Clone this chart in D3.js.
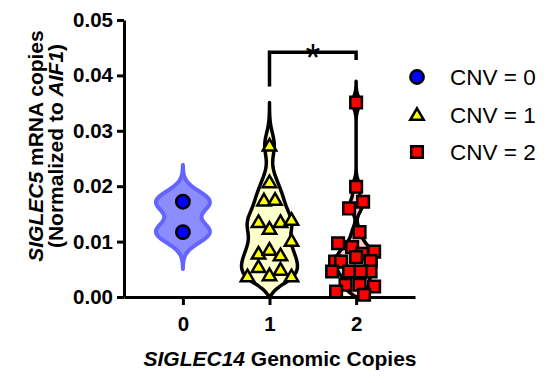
<!DOCTYPE html>
<html>
<head>
<meta charset="utf-8">
<script src="https://cdn.jsdelivr.net/npm/d3@7"></script>
<style>
  body { margin: 0; background: #fff; }
  text { font-family: "Liberation Sans", Arial, sans-serif; }
</style>
</head>
<body>
<div class="container"></div>
<script>
////////////////////////////////////////////////////////////////
// DATA
////////////////////////////////////////////////////////////////
var groups = ["0", "1", "2"];
var legendLabels = ["CNV = 0", "CNV = 1", "CNV = 2"];
var yTicks = [0, 0.01, 0.02, 0.03, 0.04, 0.05];

// values, jitter is in category units
var cnv0 = [0.0172, 0.0117];
var cnv0Jit = [0, 0];

var cnv1 = [0.0274, 0.0208, 0.0175, 0.0176, 0.0136, 0.0124, 0.0136, 0.0140,
            0.0102, 0.0079, 0.0086, 0.0076, 0.0055, 0.0050, 0.0038, 0.0040, 0.0038];
var cnv1Jit = [0, 0, -0.064, 0.064, -0.127, 0, 0.127, 0.254,
               0.254, -0.127, 0, 0.127, -0.127, 0.127, -0.254, 0, 0.254];

var cnv2 = [0.0351, 0.0199, 0.0172, 0.0160, 0.0117, 0.0097, 0.0090, 0.0082,
            0.0078, 0.0072, 0.0065, 0.0064, 0.0064, 0.0046, 0.0046, 0.0046,
            0.0046, 0.0022, 0.0022, 0.0019, 0.0010, 0.0004];
var cnv2Jit = [0, 0, 0.081, -0.081, 0.040, -0.208, -0.046, 0.208,
               0.070, 0, 0.167, -0.243, -0.173, -0.081, 0.167, 0.052,
               -0.277, -0.122, 0.040, 0.208, -0.231, 0.092];

var bandwidths = [0.0019, 0.0022, 0.0011]; // kde bandwidth per group
var sigStar = ["1", "2", "*"];

////////////////////////////////////////////////////////////////
// STAGE
////////////////////////////////////////////////////////////////
var W = 550, H = 383;
var svg = d3.select(".container").append("svg")
    .attr("width", W).attr("height", H);

var y = d3.scaleLinear().domain([0, 0.05]).range([297, 20]);
var x = d3.scalePoint().domain(groups).range([124, 415]).padding(0.68);
var unit = x.step(); // px per category

var fills = ["#8c8cff", "#ffffcc", "#ffcccc"];
var strokes = ["#6464ff", "#000", "#000"];
var ptFill = ["#0000ff", "#ffff00", "#ff0000"];
var shapes = [d3.symbolCircle, d3.symbolTriangle, d3.symbolSquare];
var shapeSize = [140, 78, 135];
var maxHalf = [27, 28, 20];

var series = [cnv0, cnv1, cnv2];
var jitter = [cnv0Jit, cnv1Jit, cnv2Jit];

////////////////////////////////////////////////////////////////
// AXES
////////////////////////////////////////////////////////////////
var yAxis = svg.append("g")
    .attr("transform", "translate(124,0)")
    .call(d3.axisLeft(y).tickValues(yTicks).tickFormat(d3.format(".2f"))
          .tickSize(7).tickSizeOuter(0).tickPadding(4));

var xAxis = svg.append("g")
    .attr("transform", "translate(0,297)")
    .call(d3.axisBottom(x).tickSize(8).tickSizeOuter(0).tickPadding(11));

[yAxis, xAxis].forEach(function(a) {
  a.selectAll("path, line").attr("stroke", "#000").attr("stroke-width", 3);
  a.selectAll("text").attr("font-size", 20.5).attr("font-weight", "bold")
    .attr("fill", "#000").attr("font-family", "Liberation Sans, Arial, sans-serif");
});

////////////////////////////////////////////////////////////////
// VIOLINS
////////////////////////////////////////////////////////////////
function kde(vals, bw, v) {
  var s = 0;
  vals.forEach(function(d) { s += Math.exp(-0.5 * Math.pow((v - d) / bw, 2)); });
  return s;
}

series.forEach(function(vals, i) {
  var bw = bandwidths[i];
  var lo = Math.max(0, d3.min(vals) - 3.5 * bw);
  var hi = d3.max(vals) + 3.5 * bw;
  var pts = d3.range(0, 121).map(function(k) {
    var v = lo + (hi - lo) * k / 120;
    return { v: v, d: kde(vals, bw, v) };
  });
  var dmax = d3.max(pts, function(p) { return p.d; });
  // taper when the curve is cut at zero
  pts.forEach(function(p) {
    var w = p.d / dmax;
    if (lo === 0) {
      var t = Math.min(1, p.v / 0.003);
      w *= Math.sqrt(t);
    }
    p.w = w * maxHalf[i];
  });
  pts[0].w = 0;
  pts[pts.length - 1].w = 0;

  var cx = x(groups[i]);
  var area = d3.area()
      .y(function(p) { return y(p.v); })
      .x0(function(p) { return cx - p.w; })
      .x1(function(p) { return cx + p.w; })
      .curve(d3.curveBasis);
  svg.append("path")
     .attr("d", area(pts))
     .attr("fill", fills[i])
     .attr("stroke", strokes[i])
     .attr("stroke-width", i == 0 ? 4 : 3.5)
     .attr("stroke-linejoin", "round");
});

////////////////////////////////////////////////////////////////
// POINTS
////////////////////////////////////////////////////////////////
series.forEach(function(vals, i) {
  var sym = d3.symbol().type(shapes[i]).size(shapeSize[i]);
  svg.append("g").selectAll("path")
     .data(vals)
     .enter().append("path")
     .attr("d", sym)
     .attr("transform", function(d, k) {
        var dy = i == 1 ? 1.5 : 0;
        return "translate(" + (x(groups[i]) + jitter[i][k] * unit) + "," + (y(d) + dy) + ")";
     })
     .attr("fill", ptFill[i])
     .attr("stroke", "#000")
     .attr("stroke-width", 2.5)
     .attr("stroke-linejoin", "miter");
});

////////////////////////////////////////////////////////////////
// SIGNIFICANCE BRACKET
////////////////////////////////////////////////////////////////
var bx1 = x(sigStar[0]), bx2 = x(sigStar[1]);
svg.append("path")
   .attr("d", "M" + bx1 + "," + y(0.038) + "V" + y(0.0442) + "H" + bx2 + "V" + y(0.0428))
   .attr("fill", "none").attr("stroke", "#000").attr("stroke-width", 3.5);
svg.append("text")
   .attr("x", (bx1 + bx2) / 2).attr("y", y(0.0442) + 19)
   .attr("text-anchor", "middle").attr("font-size", 38)
   .text(sigStar[2]);

////////////////////////////////////////////////////////////////
// TITLES
////////////////////////////////////////////////////////////////
var yt = svg.append("g").attr("transform", "translate(0,146) rotate(-90)")
    .attr("font-weight", "bold").attr("font-size", 21).attr("text-anchor", "middle");
var l1 = yt.append("text").attr("x", 0).attr("y", 43);
l1.append("tspan").attr("font-style", "italic").text("SIGLEC5");
l1.append("tspan").text(" mRNA copies");
var l2 = yt.append("text").attr("x", 0).attr("y", 63);
l2.append("tspan").text("(Normalized to ");
l2.append("tspan").attr("font-style", "italic").text("AIF1");
l2.append("tspan").text(")");

var xt = svg.append("text").attr("x", 280).attr("y", 366)
    .attr("text-anchor", "middle").attr("font-weight", "bold").attr("font-size", 21);
xt.append("tspan").attr("font-style", "italic").text("SIGLEC14");
xt.append("tspan").text(" Genomic Copies");

////////////////////////////////////////////////////////////////
// LEGEND
////////////////////////////////////////////////////////////////
var leg = svg.append("g").selectAll("g")
    .data(legendLabels)
    .enter().append("g")
    .attr("transform", function(d, i) { return "translate(417," + (77 + i * 37.5) + ")"; });
leg.append("path")
   .attr("d", function(d, i) { return d3.symbol().type(shapes[i]).size(shapeSize[i])(); })
   .attr("transform", function(d, i) { return i == 1 ? "translate(0,1.5)" : null; })
   .attr("fill", function(d, i) { return ptFill[i]; })
   .attr("stroke", "#000").attr("stroke-width", 2.5);
leg.append("text")
   .attr("x", 33).attr("y", 0).attr("dy", "0.36em")
   .attr("font-size", 22.5)
   .text(function(d) { return d; });
</script>
</body>
</html>
